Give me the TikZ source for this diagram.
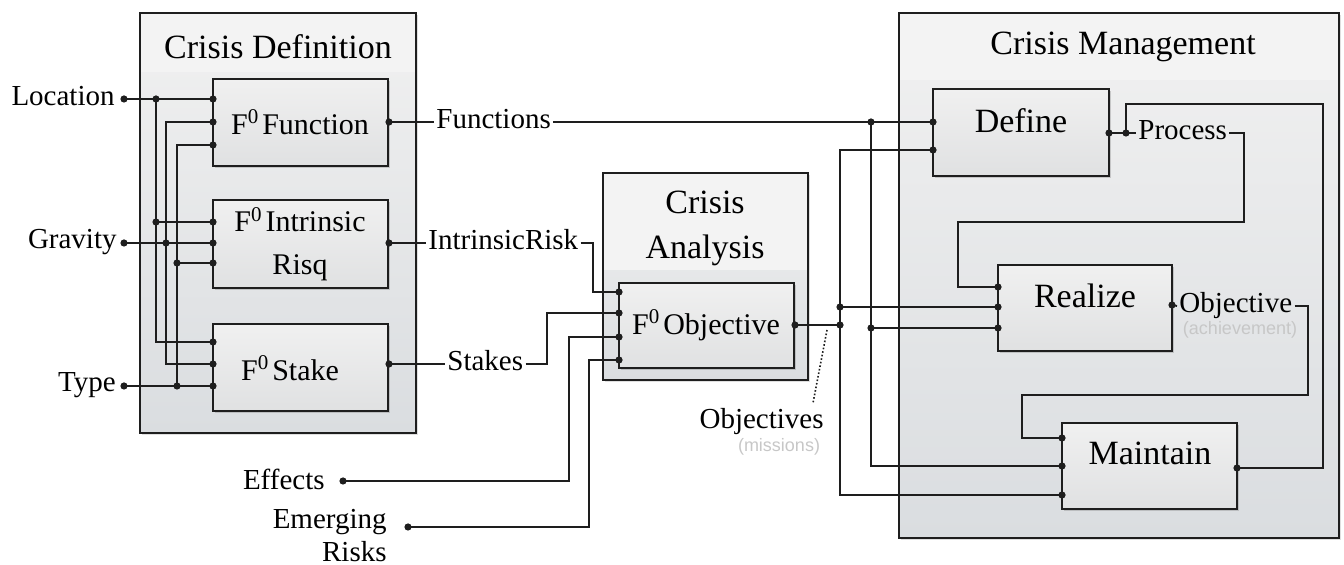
\documentclass[tikz,border=0pt]{standalone}
\usepackage{fontspec}
\setmainfont{Liberation Serif}
\newfontfamily\ghostfont{Liberation Sans}
\usetikzlibrary{fit,shadows}
\definecolor{ln}{HTML}{1E1E1E}
\definecolor{otop}{HTML}{F1F1F1}
\definecolor{obot}{HTML}{DADDE0}
\definecolor{band}{HTML}{F3F3F3}
\definecolor{itop}{HTML}{F0F0F0}
\definecolor{ibot}{HTML}{E0E1E2}
\begin{document}
\begin{tikzpicture}[x=0.5pt,y=-0.5pt,
  outerbox/.style={draw=ln, line width=1pt, top color=otop, bottom color=obot, inner sep=0pt,
    drop shadow={opacity=0.25, shadow xshift=1pt, shadow yshift=-1.2pt}},
  innerbox/.style={draw=ln, line width=1.1pt, top color=itop, bottom color=ibot, inner sep=0pt,
    drop shadow={opacity=0.35, shadow xshift=1pt, shadow yshift=-1.2pt}},
  wire/.style={draw=ln, line width=0.9pt},
  dot/.style={circle, fill=ln, inner sep=0pt, minimum size=3.6pt},
  lbl/.style={font=\fontsize{14.5}{17.5}\selectfont, inner sep=1pt, text height=0.62em, text depth=0pt},
  lbltwo/.style={font=\fontsize{14.5}{16.5}\selectfont, inner sep=0pt, align=right},
  ttl/.style={font=\fontsize{17}{22.5}\selectfont, align=center, inner sep=0pt},
  ftxt/.style={font=\fontsize{15}{21.5}\selectfont, align=center, inner sep=0pt},
  ghost/.style={font=\ghostfont\fontsize{9}{11}\selectfont, text=black!22, inner sep=0pt}
]
\useasboundingbox (0,0) rectangle (1344,565);

% ---------- outer boxes ----------
\node[outerbox, fit={(140,13) (416,433)}] (cd) {};
\fill[band] (141,14) rectangle (415,72);
\node[ttl] (cdT) at (278,47) {Crisis Definition};

\node[outerbox, fit={(603,173) (808,380)}] (ca) {};
\fill[band] (604,174) rectangle (807,270);
\node[ttl] (caT) at (705,228) {Crisis\\Analysis};

\node[outerbox, fit={(899,13) (1339,538)}] (cm) {};
\fill[band] (900,14) rectangle (1338,80);
\node[ttl] (cmT) at (1123,47) {Crisis Management};

% ---------- inner boxes ----------
\node[innerbox, fit={(213,79) (388,166)}] (fn) {};
\node[ftxt] (fnT) at (300,122) {F\textsuperscript{0}\kern1.5pt Function};
\node[innerbox, fit={(213,200) (388,288)}] (ir) {};
\node[ftxt] (irT) at (300,244) {F\textsuperscript{0}\kern1.5pt Intrinsic\\Risq};
\node[innerbox, fit={(213,324) (388,411)}] (st) {};
\node[ftxt] (stT) at (290,368) {F\textsuperscript{0}\kern1.5pt Stake};
\node[innerbox, fit={(619,283) (794,368)}] (obj) {};
\node[ftxt] (objT) at (706,325) {F\textsuperscript{0}\kern1.5pt Objective};
\node[innerbox, fit={(933,89) (1109,176)}] (def) {};
\node[ttl] (defT) at (1021,121) {Define};
\node[innerbox, fit={(998,265) (1172,351)}] (rea) {};
\node[ttl] (reaT) at (1085,296) {Realize};
\node[innerbox, fit={(1062,423) (1237,509)}] (mai) {};
\node[ttl] (maiT) at (1150,453) {Maintain};

% ---------- labels ----------
\node[lbl, anchor=east] (loc) at (117,99) {Location};
\node[lbl, anchor=east] (grav) at (119,242) {Gravity};
\node[lbl, anchor=east] (type) at (118,385) {Type};
\node[lbl, anchor=west] (functions) at (434,122) {Functions};
\node[lbl, anchor=west] (intrisk) at (426,243) {IntrinsicRisk};
\node[lbl, anchor=west] (stakes) at (445,364) {Stakes};
\node[lbl, anchor=east] (effects) at (327,483) {Effects};
\node[lbltwo, anchor=north east] (emerg) at (387,509) {Emerging\\Risks};
\node[lbl, anchor=west] (process) at (1136,133) {Process};
\node[lbl, anchor=west] (objlbl) at (1177,306) {Objective};
\node[lbl, anchor=east] (objectives) at (826,422) {Objectives};
\node[ghost] (missions) at (779,447) {(missions)};
\node[ghost] (achv) at (1240,330) {(achievement)};

% ---------- ports ----------
\coordinate (fnI1) at (213,99);  \coordinate (fnI2) at (213,122); \coordinate (fnI3) at (213,145);
\coordinate (irI1) at (213,222); \coordinate (irI2) at (213,243); \coordinate (irI3) at (213,263);
\coordinate (stI1) at (213,342); \coordinate (stI2) at (213,364); \coordinate (stI3) at (213,386);
\coordinate (fnO) at (389,122);  \coordinate (irO) at (389,243);  \coordinate (stO) at (389,364);
\coordinate (objI1) at (619,292); \coordinate (objI2) at (619,313);
\coordinate (objI3) at (619,337); \coordinate (objI4) at (619,360);
\coordinate (objO) at (795,325);
\coordinate (defI1) at (933,122); \coordinate (defI2) at (933,150); \coordinate (defO) at (1109,133);
\coordinate (reaI1) at (998,287); \coordinate (reaI2) at (998,307); \coordinate (reaI3) at (998,328);
\coordinate (reaO) at (1172,305);
\coordinate (maiI1) at (1062,438); \coordinate (maiI2) at (1062,466); \coordinate (maiI3) at (1062,495);
\coordinate (maiO) at (1237,468);

% free ends / dots
\coordinate (locD) at (124,99);  \coordinate (gravD) at (124,243); \coordinate (typeD) at (124,386);
\coordinate (effD) at (343,481); \coordinate (emD) at (408,527);

% junctions and bends
\coordinate (j1a) at (156,99);  \coordinate (j1b) at (156,222);
\coordinate (j2) at (166,243);
\coordinate (j3a) at (177,263); \coordinate (j3b) at (177,386);
\coordinate (b1) at (593,243);  \coordinate (b2) at (547,364);
\coordinate (b3) at (569,481);  \coordinate (b4) at (589,527);
\coordinate (j5) at (840,325);  \coordinate (j6) at (840,307); \coordinate (b5) at (840,495);
\coordinate (j7) at (871,122);  \coordinate (j8) at (871,328);
\coordinate (j9) at (1126,133);
\coordinate (b6) at (1244,133); \coordinate (b7) at (958,222);
\coordinate (b8) at (1323,104);
\coordinate (b9) at (1308,306); \coordinate (b10) at (1022,395);
\coordinate (dl1) at (827,330); \coordinate (dl2) at (813,403);

% ---------- wires: crisis definition ----------
\draw[wire] (locD) -- (fnI1);
\draw[wire] (j1a) |- (stI1);
\draw[wire] (j1b) -- (irI1);
\draw[wire] (gravD) -- (irI2);
\draw[wire] (fnI2) -| (j2) |- (stI2);
\draw[wire] (typeD) -- (stI3);
\draw[wire] (fnI3) -| (j3b);
\draw[wire] (j3a) -- (irI3);

% ---------- wires: to analysis ----------
\draw[wire] (fnO) -- (functions.west);
\draw[wire] (functions.east) -- (defI1);
\draw[wire] (irO) -- (intrisk.west);
\draw[wire] (intrisk.east) -- (b1) |- (objI1);
\draw[wire] (stO) -- (stakes.west);
\draw[wire] (stakes.east) -- (b2) |- (objI2);
\draw[wire] (effD) -- (b3) |- (objI3);
\draw[wire] (emD) -- (b4) |- (objI4);

% ---------- wires: to management ----------
\draw[wire] (objO) -- (j5);
\draw[wire] (defI2) -| (b5) -- (maiI3);
\draw[wire] (j6) -- (reaI2);
\draw[wire] (j7) |- (maiI2);
\draw[wire] (j8) -- (reaI3);
\draw[wire] (defO) -- (process.west);
\draw[wire] (process.east) -- (b6) |- (b7) |- (reaI1);
\draw[wire] (maiO) -| (b8) -| (j9);
\draw[wire] (reaO) -- (objlbl.west);
\draw[wire] (objlbl.east) -- (b9) |- (b10) |- (maiI1);
\draw[ln, line width=0.8pt, densely dotted] (dl1) -- (dl2);

% ---------- dots ----------
\foreach \p in {fnI1,fnI2,fnI3,irI1,irI2,irI3,stI1,stI2,stI3,fnO,irO,stO,
  objI1,objI2,objI3,objI4,objO,defI1,defI2,defO,reaI1,reaI2,reaI3,reaO,
  maiI1,maiI2,maiI3,maiO,locD,gravD,typeD,effD,emD,
  j1a,j1b,j2,j3a,j3b,j5,j6,j7,j8,j9}
  \node[dot] at (\p) {};
\end{tikzpicture}
\end{document}
